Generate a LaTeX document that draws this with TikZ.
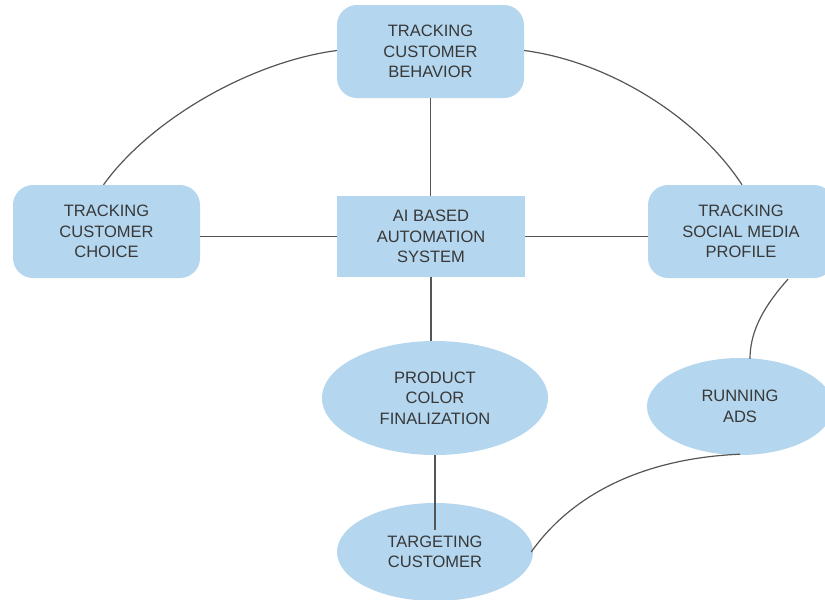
\documentclass[tikz,border=0pt]{standalone}
\usepackage{fontspec}
\setmainfont{Liberation Sans}
\usetikzlibrary{shapes.geometric,calc}
\definecolor{boxfill}{HTML}{B4D6EE}
\definecolor{txt}{HTML}{383838}
\definecolor{wire}{HTML}{555555}
\tikzset{
  lbl/.style={text=txt,font=\fontsize{16.5}{20.5}\selectfont,align=center,inner sep=0pt},
  rbox/.style={lbl,fill=boxfill,rounded corners=20pt,minimum width=187pt,minimum height=93pt},
  sbox/.style={lbl,fill=boxfill,minimum width=188pt,minimum height=81pt},
  oval/.style={lbl,fill=boxfill,ellipse},
  wireline/.style={draw=wire,line width=1.2pt}
}
\begin{document}
\begin{tikzpicture}[x=1pt,y=-1pt]
\useasboundingbox (0,0) rectangle (825,600);
\clip (0,0) rectangle (825,600);
\node[rbox] (top) at (430.5,51.5) {TRACKING\\CUSTOMER\\BEHAVIOR};
\node[rbox] (left) at (106.5,231.5) {TRACKING\\CUSTOMER\\CHOICE};
\node[sbox] (ai) at (431,236.5) {AI BASED\\AUTOMATION\\SYSTEM};
\node[rbox,minimum width=186pt] (right) at (741,231.5) {TRACKING\\SOCIAL MEDIA\\PROFILE};
\node[oval,minimum width=226pt,minimum height=114pt] (prod) at (435,398) {PRODUCT\\COLOR\\FINALIZATION};
\node[oval,minimum width=186pt,minimum height=97pt] (ads) at (740,406.5) {RUNNING\\ADS};
\node[oval,minimum width=196pt,minimum height=98pt] (targ) at (435,552) {TARGETING\\CUSTOMER};
\draw[wireline] ($(left.north)+(-3,0)$) .. controls (150,120) and (250,62) .. ($(top.west)+(0,-1)$);
\draw[wireline] ($(top.east)+(0,-1)$) .. controls (612,62) and (700,120) .. ($(right.north)+(1,0)$);
\draw[wireline] (top.south) -- (ai.north -| top.south);
\draw[wireline] (left.east |- ai.west) -- (ai.west);
\draw[wireline] (ai.east) -- (right.west |- ai.east);
\draw[wireline] (ai.south) -- (prod.north -| ai.south);
\draw[wireline] (prod.south) -- ($(targ.north)+(0,27)$);
\draw[wireline] ($(right.south)+(47,1)$) .. controls (765,305) and (750,330) .. ($(ads.north)+(10,1)$);
\draw[wireline] ($(ads.south)+(0,-1)$) .. controls (650,458) and (575,490) .. ($(targ.east)+(-2,0)$);
\end{tikzpicture}
\end{document}
